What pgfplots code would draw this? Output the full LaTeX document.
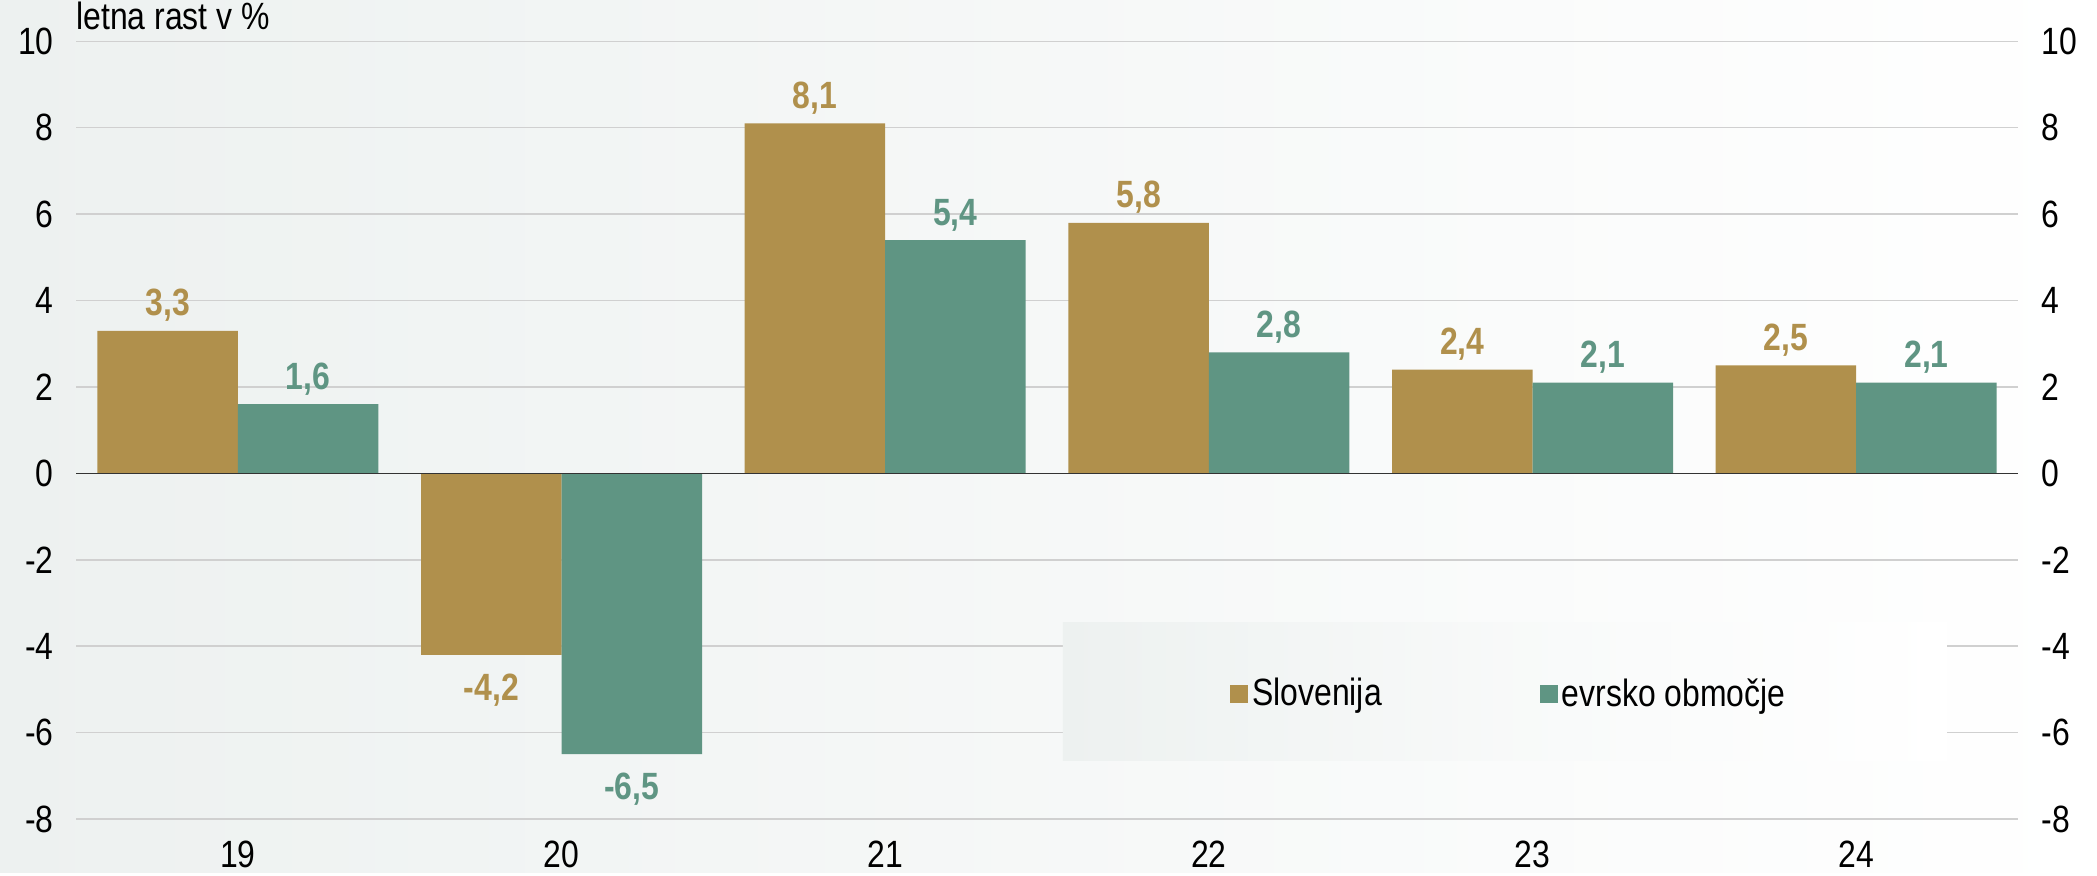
\documentclass[border=0pt]{standalone}
\usepackage{fontspec}
\setmainfont{Liberation Sans}[FakeStretch=0.84]
\usepackage{pgfplots}
\pgfplotsset{compat=1.18}

\definecolor{slo}{RGB}{176,144,76}
\definecolor{ea}{RGB}{95,149,131}
\definecolor{bgl}{RGB}{237,241,240}
\definecolor{gridc}{RGB}{208,208,208}
\newcommand\chartfont{\fontsize{19}{22}\selectfont}

\begin{document}
\begin{tikzpicture}
% background, 1px = 0.5pt
\shade[left color=bgl, right color=white] (-38pt,-27pt) rectangle (1010.5pt,409.5pt);

\begin{axis}[
  name=main,
  scale only axis,
  width=971pt, height=388.85pt,
  xmin=-0.5, xmax=5.5,
  ymin=-8, ymax=10,
  ybar=0pt, bar width=70.25pt,
  xtick={0,...,5},
  xticklabels={19,20,21,22,23,24},
  ytick={-8,-6,...,10},
  ymajorgrids,
  grid style={gridc, line width=0.75pt},
  major tick length=0pt,
  tick style={draw=none},
  axis line style={draw=none},
  tick label style={font=\chartfont},
  /pgf/number format/assume math mode=true,
  yticklabel style={xshift=-7.7pt},
  xticklabel style={yshift=-7.7pt},
  legend style={at={(axis cs:3.93,-5.10)}, anchor=center, draw=none, fill=none,
    font=\chartfont, legend columns=2,
    /tikz/every even column/.append style={column sep=77pt}},
  legend image code/.code={\fill[#1] (0pt,-4.5pt) rectangle (9pt,4.5pt);},
  visualization depends on=rawy \as \yval,
  nodes near coords={\pgfmathprintnumber[fixed, fixed zerofill, precision=1, use comma, assume math mode=true]{\pgfplotspointmeta}},
  every node near coord/.append style={font=\chartfont\bfseries, yshift={\yval<0 ? -6 : 1}},
]
\shade[left color=bgl, right color=white, middle color=bgl!40!white]
  (axis cs:2.549,-3.45) rectangle (axis cs:5.280,-6.65);

\addplot[fill=slo, draw=none, every node near coord/.append style={text=slo}] coordinates {
(0,3.3) (1,-4.2) (2,8.1) (3,5.8) (4,2.4) (5,2.5)
};
\addplot[fill=ea, draw=none, every node near coord/.append style={text=ea}] coordinates {
(0,1.6) (1,-6.5) (2,5.4) (3,2.8) (4,2.1) (5,2.1)
};
\legend{Slovenija, evrsko območje}

\draw[black!80, line width=0.75pt] (axis cs:-0.5,0) -- (axis cs:5.5,0);
\end{axis}
\node[anchor=base west, inner sep=0pt, font=\chartfont] at ([yshift=5.7pt]main.north west) {letna rast v \%};

\begin{axis}[
  scale only axis,
  width=971pt, height=388.85pt,
  xmin=-0.5, xmax=5.5,
  ymin=-8, ymax=10,
  ytick={-8,-6,...,10},
  axis y line*=right,
  axis x line=none,
  major tick length=0pt,
  tick style={draw=none},
  axis line style={draw=none},
  tick label style={font=\chartfont},
  /pgf/number format/assume math mode=true,
  yticklabel style={xshift=8.2pt},
]
\end{axis}
\end{tikzpicture}
\end{document}
